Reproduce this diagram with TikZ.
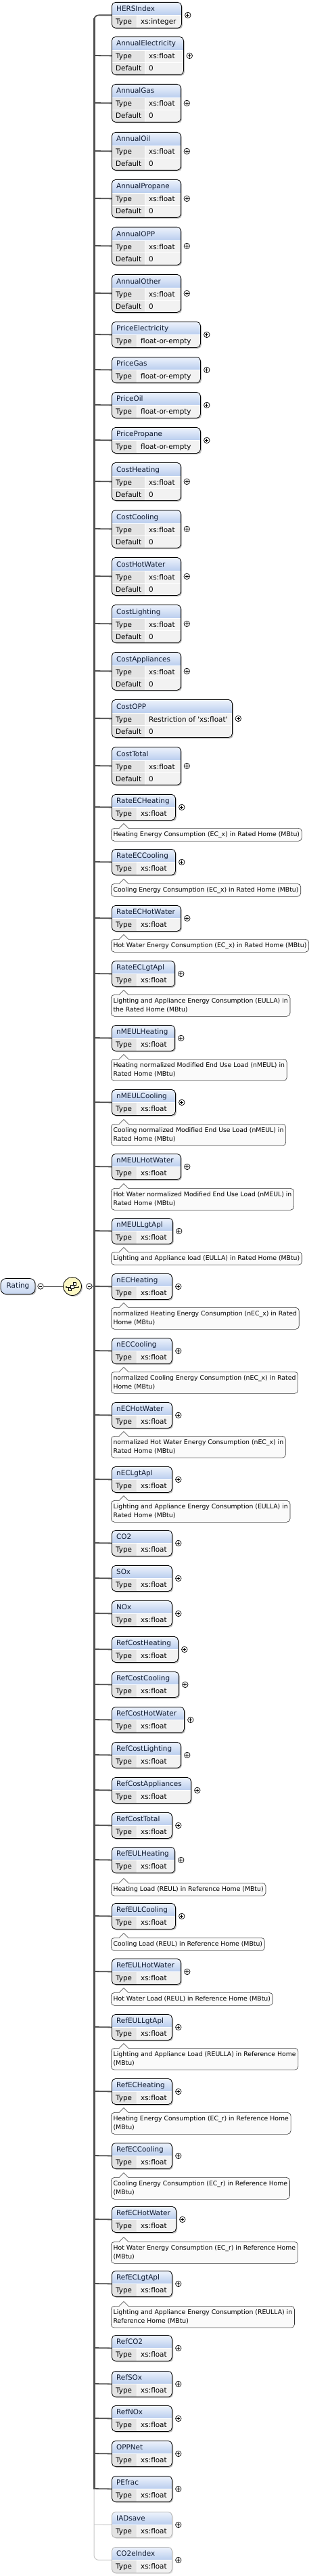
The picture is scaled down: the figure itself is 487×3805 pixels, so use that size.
\documentclass[tikz,border=0pt]{standalone}
\usepackage{fontspec}
\setmainfont{DejaVu Sans}[Ligatures=TeXOff]
\usetikzlibrary{shadows,calc}
\definecolor{hdrtop}{HTML}{EEF3FC}
\definecolor{hdrbot}{HTML}{B9CDEE}
\definecolor{rowbg}{HTML}{F2F2F2}
\definecolor{lblbg}{HTML}{E3E3E3}
\definecolor{linec}{HTML}{505050}
\definecolor{optc}{HTML}{C6C6C6}
\definecolor{namec}{HTML}{0F1A30}
\definecolor{annbg}{HTML}{FAFAFA}
\definecolor{seqfill}{HTML}{FCF8C4}
\newcommand\boxfont{\fontsize{10.4}{12}\selectfont}
\newcommand\annfont{\fontsize{9.3}{13}\selectfont}
\newcommand\ppb{path picture bounding box}
\newcommand\rowsA{%
  \fill[rowbg,sharp corners] (\ppb.north west) rectangle (\ppb.south east);
  \shade[top color=hdrtop,bottom color=hdrbot,sharp corners] (\ppb.north west) rectangle ($(\ppb.north east)+(0,19)$);
  \fill[lblbg,sharp corners] ($(\ppb.north west)+(0,19)$) rectangle ($(\ppb.south west)+(37,0)$);
  \draw[white,line width=0.8pt,sharp corners] ($(\ppb.north west)+(0,19)$) -- ($(\ppb.north east)+(0,19)$);
  \draw[white,line width=0.8pt,sharp corners] ($(\ppb.north west)+(37,19)$) -- ($(\ppb.south west)+(37,0)$);
}
\newcommand\rowsB{%
  \fill[rowbg,sharp corners] (\ppb.north west) rectangle (\ppb.south east);
  \shade[top color=hdrtop,bottom color=hdrbot,sharp corners] (\ppb.north west) rectangle ($(\ppb.north east)+(0,20)$);
  \fill[lblbg,sharp corners] ($(\ppb.north west)+(0,20)$) rectangle ($(\ppb.south west)+(49,0)$);
  \draw[white,line width=0.8pt,sharp corners] ($(\ppb.north west)+(0,20)$) -- ($(\ppb.north east)+(0,20)$);
  \draw[white,line width=0.8pt,sharp corners] ($(\ppb.north west)+(0,38)$) -- ($(\ppb.north east)+(0,38)$);
  \draw[white,line width=0.8pt,sharp corners] ($(\ppb.north west)+(49,20)$) -- ($(\ppb.south west)+(49,0)$);
}
\tikzset{
  ebox/.style={anchor=north west, inner sep=0, rounded corners=5.5pt, draw=black, line width=0.8pt,
    drop shadow={shadow xshift=1.6pt, shadow yshift=-1.6pt, fill=black!50}},
  eboxopt/.style={anchor=north west, inner sep=0, rounded corners=5.5pt, draw=black!30, line width=0.8pt,
    drop shadow={shadow xshift=1.6pt, shadow yshift=-1.6pt, fill=black!22}},
  nametext/.style={anchor=base west, inner sep=0, font=\boxfont, text=namec},
  rowtext/.style={anchor=base west, inner sep=0, font=\boxfont, text=black},
  plus/.style={circle, draw=black, line width=0.7pt, fill=white, inner sep=0, minimum size=8.5pt,
    path picture={\draw[line width=0.7pt,black] ($(\ppb.center)+(-2.4,0)$) -- ($(\ppb.center)+(2.4,0)$)
      ($(\ppb.center)+(0,-2.4)$) -- ($(\ppb.center)+(0,2.4)$);}},
  minus/.style={circle, draw=black, line width=0.7pt, fill=white, inner sep=0, minimum size=8.5pt,
    path picture={\draw[line width=0.7pt,black] ($(\ppb.center)+(-2.4,0)$) -- ($(\ppb.center)+(2.4,0)$);}},
  bus/.style={draw=linec, line width=3pt},
  branch/.style={draw=linec, line width=1.8pt},
  branchopt/.style={draw=optc, line width=1pt},
  link/.style={draw=linec, line width=1pt},
  ann/.style={anchor=north west, draw=black!80, line width=0.6pt, fill=annbg, rounded corners=5pt,
    align=left, font=\annfont, inner xsep=3.3pt, inner ysep=2pt, text=black},
  annline/.style={draw=black!80, line width=0.6pt},
  ratingbox/.style={draw=black, line width=0.8pt, rounded corners=8pt, minimum width=51pt, minimum height=23pt,
    inner sep=0, top color=hdrtop, bottom color=hdrbot!80, font=\boxfont, text=namec,
    drop shadow={shadow xshift=1.6pt, shadow yshift=-1.6pt, fill=black!50}},
  seqnode/.style={circle, draw=black, line width=0.8pt, fill=seqfill, minimum size=27pt, inner sep=0,
    drop shadow={shadow xshift=1.6pt, shadow yshift=-1.6pt, fill=black!45}},
}
% 2-row element: [kind]{name}{top}{right}{type}
\newcommand\elemA[5][]{%
  \node[ebox#1, minimum width=#4-165, minimum height=38, path picture={\rowsA}] (#2) at (165,#3) {};
  \node[nametext] at (172,#3+13.5) {#2};
  \node[rowtext] at (171,#3+32.5) {Type};
  \node[rowtext] at (208,#3+32.5) {#5};
  \node[plus] (p#2) at ($(#2.east)+(9,0)$) {};
  \coordinate (b#2) at (139,#3+19);
}
% 3-row element: {name}{top}{right}{type}{default}
\newcommand\elemB[5]{%
  \node[ebox, minimum width=#3-165, minimum height=56, path picture={\rowsB}] (#1) at (165,#2) {};
  \node[nametext] at (172,#2+14) {#1};
  \node[rowtext] at (171,#2+33) {Type};
  \node[rowtext] at (220,#2+33) {#4};
  \node[rowtext] at (171,#2+51) {Default};
  \node[rowtext] at (220,#2+51) {#5};
  \node[plus] (p#1) at ($(#1.east)+(8.5,0)$) {};
  \coordinate (b#1) at (139,#2+28);
}
% annotation: {id}{top}{height}{text}
\newcommand\annot[4]{%
  \node[ann, minimum height=#3] (a#1) at (164,#2) {#4};
  \fill[annbg] ($(a#1.north west)+(12.5,0.8)$) -- ($(a#1.north west)+(19,-6.5)$) -- ($(a#1.north west)+(25.5,0.8)$) -- cycle;
  \draw[annline] ($(a#1.north west)+(12.5,0)$) -- ($(a#1.north west)+(19,-6.5)$) -- ($(a#1.north west)+(25.5,0)$);
}
\begin{document}
\begin{tikzpicture}[x=1pt,y=-1pt]
\useasboundingbox (0,0) rectangle (487,3805);

\elemA{HERSIndex}{3}{268}{xs:integer}
\elemB{AnnualElectricity}{54}{271}{xs:float}{0}
\elemB{AnnualGas}{124}{267}{xs:float}{0}
\elemB{AnnualOil}{195}{267}{xs:float}{0}
\elemB{AnnualPropane}{265}{267}{xs:float}{0}
\elemB{AnnualOPP}{335}{267}{xs:float}{0}
\elemB{AnnualOther}{405}{267}{xs:float}{0}
\elemA{PriceElectricity}{475}{296}{float-or-empty}
\elemA{PriceGas}{527}{296}{float-or-empty}
\elemA{PriceOil}{579}{296}{float-or-empty}
\elemA{PricePropane}{631}{296}{float-or-empty}
\elemB{CostHeating}{683}{267}{xs:float}{0}
\elemB{CostCooling}{753}{267}{xs:float}{0}
\elemB{CostHotWater}{823}{267}{xs:float}{0}
\elemB{CostLighting}{893}{267}{xs:float}{0}
\elemB{CostAppliances}{963}{267}{xs:float}{0}
\elemB{CostOPP}{1033}{343}{Restriction of 'xs:float'}{0}
\elemB{CostTotal}{1103}{267}{xs:float}{0}
\elemA{RateECHeating}{1173}{259}{xs:float}
\annot{RateECHeating}{1223}{19}{Heating Energy Consumption (EC\_x) in Rated Home (MBtu)}
\elemA{RateECCooling}{1254}{259}{xs:float}
\annot{RateECCooling}{1305}{19}{Cooling Energy Consumption (EC\_x) in Rated Home (MBtu)}
\elemA{RateECHotWater}{1337}{267}{xs:float}
\annot{RateECHotWater}{1387}{19}{Hot Water Energy Consumption (EC\_x) in Rated Home (MBtu)}
\elemA{RateECLgtApl}{1419}{258}{xs:float}
\annot{RateECLgtApl}{1469}{32}{Lighting and Appliance Energy Consumption (EULLA) in\\the Rated Home (MBtu)}
\elemA{nMEULHeating}{1514}{258}{xs:float}
\annot{nMEULHeating}{1564}{32}{Heating normalized Modified End Use Load (nMEUL) in\\Rated Home (MBtu)}
\elemA{nMEULCooling}{1609}{259}{xs:float}
\annot{nMEULCooling}{1660}{32}{Cooling normalized Modified End Use Load (nMEUL) in\\Rated Home (MBtu)}
\elemA{nMEULHotWater}{1704}{267}{xs:float}
\annot{nMEULHotWater}{1755}{32}{Hot Water normalized Modified End Use Load (nMEUL) in\\Rated Home (MBtu)}
\elemA{nMEULLgtApl}{1799}{255}{xs:float}
\annot{nMEULLgtApl}{1849}{19}{Lighting and Appliance load (EULLA) in Rated Home (MBtu)}
\elemA{nECHeating}{1881}{254}{xs:float}
\annot{nECHeating}{1931}{32}{normalized Heating Energy Consumption (nEC\_x) in Rated\\Home (MBtu)}
\elemA{nECCooling}{1976}{254}{xs:float}
\annot{nECCooling}{2026}{32}{normalized Cooling Energy Consumption (nEC\_x) in Rated\\Home (MBtu)}
\elemA{nECHotWater}{2071}{254}{xs:float}
\annot{nECHotWater}{2121}{32}{normalized Hot Water Energy Consumption (nEC\_x) in\\Rated Home (MBtu)}
\elemA{nECLgtApl}{2166}{254}{xs:float}
\annot{nECLgtApl}{2216}{32}{Lighting and Appliance Energy Consumption (EULLA) in\\Rated Home (MBtu)}
\elemA{CO2}{2260}{254}{xs:float}
\elemA{SOx}{2312}{254}{xs:float}
\elemA{NOx}{2364}{254}{xs:float}
\elemA{RefCostHeating}{2417}{263}{xs:float}
\elemA{RefCostCooling}{2469}{264}{xs:float}
\elemA{RefCostHotWater}{2521}{272}{xs:float}
\elemA{RefCostLighting}{2573}{267}{xs:float}
\elemA{RefCostAppliances}{2625}{282}{xs:float}
\elemA{RefCostTotal}{2677}{254}{xs:float}
\elemA{RefEULHeating}{2728}{258}{xs:float}
\annot{RefEULHeating}{2781}{19}{Heating Load (REUL) in Reference Home (MBtu)}
\elemA{RefEULCooling}{2811}{259}{xs:float}
\annot{RefEULCooling}{2862}{19}{Cooling Load (REUL) in Reference Home (MBtu)}
\elemA{RefEULHotWater}{2893}{267}{xs:float}
\annot{RefEULHotWater}{2943}{19}{Hot Water Load (REUL) in Reference Home (MBtu)}
\elemA{RefEULLgtApl}{2975}{254}{xs:float}
\annot{RefEULLgtApl}{3025}{32}{Lighting and Appliance Load (REULLA) in Reference Home\\(MBtu)}
\elemA{RefECHeating}{3070}{254}{xs:float}
\annot{RefECHeating}{3120}{32}{Heating Energy Consumption (EC\_r) in Reference Home\\(MBtu)}
\elemA{RefECCooling}{3165}{254}{xs:float}
\annot{RefECCooling}{3216}{32}{Cooling Energy Consumption (EC\_r) in Reference Home\\(MBtu)}
\elemA{RefECHotWater}{3259}{260}{xs:float}
\annot{RefECHotWater}{3311}{32}{Hot Water Energy Consumption (EC\_r) in Reference Home\\(MBtu)}
\elemA{RefECLgtApl}{3354}{254}{xs:float}
\annot{RefECLgtApl}{3406}{32}{Lighting and Appliance Energy Consumption (REULLA) in\\Reference Home (MBtu)}
\elemA{RefCO2}{3449}{254}{xs:float}
\elemA{RefSOx}{3502}{254}{xs:float}
\elemA{RefNOx}{3553}{254}{xs:float}
\elemA{OPPNet}{3605}{254}{xs:float}
\elemA{PEfrac}{3657}{254}{xs:float}
\elemA[opt]{IADsave}{3710}{254}{xs:float}
\elemA[opt]{CO2eIndex}{3762}{254}{xs:float}

% bus and branches
\coordinate (busTop) at (139,27);
\coordinate (busBot) at (139,3677);
\draw[bus] (busTop) -- (busBot);
\draw[branch, rounded corners=7pt] (HERSIndex.west) -| (bAnnualElectricity);
\foreach \n in {AnnualElectricity,AnnualGas,AnnualOil,AnnualPropane,AnnualOPP,AnnualOther,
  PriceElectricity,PriceGas,PriceOil,PricePropane,CostHeating,CostCooling,CostHotWater,CostLighting,
  CostAppliances,CostOPP,CostTotal,RateECHeating,RateECCooling,RateECHotWater,RateECLgtApl,
  nMEULHeating,nMEULCooling,nMEULHotWater,nMEULLgtApl,nECHeating,nECCooling,nECHotWater,nECLgtApl,
  CO2,SOx,NOx,RefCostHeating,RefCostCooling,RefCostHotWater,RefCostLighting,RefCostAppliances,
  RefCostTotal,RefEULHeating,RefEULCooling,RefEULHotWater,RefEULLgtApl,RefECHeating,RefECCooling,
  RefECHotWater,RefECLgtApl,RefCO2,RefSOx,RefNOx,OPPNet,PEfrac}
  {\draw[branch] (b\n) -- (\n.west);}
\draw[branchopt, rounded corners=7pt] (busBot) |- (CO2eIndex.west);
\draw[branchopt] (bIADsave) -- (IADsave.west);

% root and compositor
\node[ratingbox] (Rating) at (26.5,1900) {Rating};
\node[minus] (m1) at (60,1900) {};
\node[seqnode] (seq) at (107,1900) {};
\node[minus] (m2) at (132,1900) {};
\coordinate (bRating) at (139,1900);
\draw[link] (m1) -- (seq);
\draw[link] (m2) -- (bRating);
% sequence icon
\draw[black, line width=0.6pt] ($(seq.center)+(-9,1)$) -- ($(seq.center)+(9,1)$);
\fill[black] ($(seq.center)+(-9,1)$) circle (1.1pt);
\fill[black] ($(seq.center)+(9,1)$) circle (1.1pt);
\draw[black, line width=0.6pt, fill=white] ($(seq.center)+(-6,2)$) rectangle ($(seq.center)+(-1.5,6.5)$);
\draw[black, line width=0.6pt, fill=white] ($(seq.center)+(-3,-2)$) rectangle ($(seq.center)+(2,3)$);
\draw[black, line width=0.6pt, fill=white] ($(seq.center)+(1,-6)$) rectangle ($(seq.center)+(5.5,-1.5)$);
\end{tikzpicture}
\end{document}
